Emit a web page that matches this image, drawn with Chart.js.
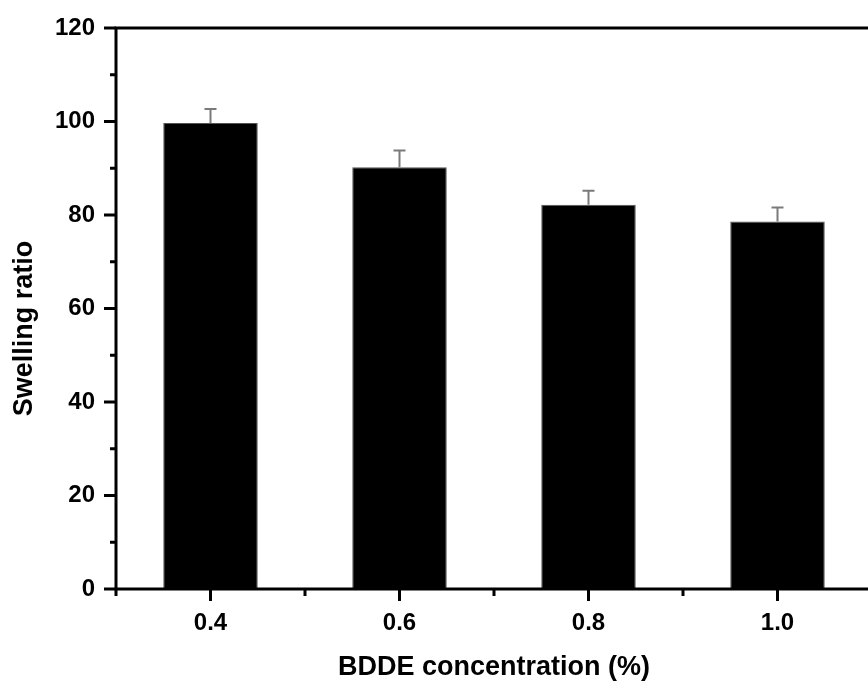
<!DOCTYPE html>
<html>
<head>
<meta charset="utf-8">
<script src="https://cdn.jsdelivr.net/npm/chart.js@4/dist/chart.umd.min.js"></script>
<style>
  html, body { margin: 0; padding: 0; background: #fff; overflow: hidden; }
  #wrap { position: relative; width: 900px; height: 686px; }
</style>
</head>
<body>
<div id="wrap"><canvas id="c" width="900" height="686"></canvas></div>
<script>
// ---- data ----
const concentrations = [0.4, 0.6, 0.8, 1.0];
const swellingRatio = [99.7, 90.2, 82.2, 78.6];
const swellingError = [3.0, 3.6, 3.0, 3.0];
const xLabelValues = [0.4, 0.6, 0.8, 1.0];
const xMinorValues = [0.3, 0.5, 0.7, 0.9, 1.1];
const yMajorValues = [0, 20, 40, 60, 80, 100, 120];
const yMinorValues = [10, 30, 50, 70, 90, 110];
const xTitle = 'BDDE concentration (%)';
const yTitle = 'Swelling ratio';

const FONT = '"Liberation Sans", Arial, Helvetica, sans-serif';

const axesPlugin = {
  id: 'axesFrame',
  afterDraw(chart) {
    const ctx = chart.ctx;
    const a = chart.chartArea;
    const xs = chart.scales.x, ys = chart.scales.y;
    ctx.save();
    ctx.strokeStyle = '#000';
    ctx.lineWidth = 3;
    ctx.lineCap = 'butt';
    ctx.beginPath();
    ctx.moveTo(a.left, a.top); ctx.lineTo(a.left, a.bottom + 1.5);
    ctx.moveTo(a.left - 1.5, a.bottom); ctx.lineTo(a.right, a.bottom);
    ctx.moveTo(a.left - 1.5, a.top); ctx.lineTo(a.right + 1.5, a.top);
    ctx.moveTo(a.right, a.top); ctx.lineTo(a.right, a.bottom);
    ctx.stroke();
    ctx.beginPath();
    yMajorValues.forEach(v => { const y = ys.getPixelForValue(v); ctx.moveTo(a.left - 12, y); ctx.lineTo(a.left, y); });
    yMinorValues.forEach(v => { const y = ys.getPixelForValue(v); ctx.moveTo(a.left - 6, y); ctx.lineTo(a.left, y); });
    xLabelValues.forEach(v => { const x = xs.getPixelForValue(v); ctx.moveTo(x, a.bottom); ctx.lineTo(x, a.bottom + 12); });
    xMinorValues.forEach(v => { const x = xs.getPixelForValue(v); ctx.moveTo(x, a.bottom); ctx.lineTo(x, a.bottom + 7); });
    ctx.stroke();
    // y axis title (placed as in the reference, slightly below the axis centre)
    ctx.fillStyle = '#000';
    ctx.font = 'bold 27px ' + FONT;
    ctx.textAlign = 'center';
    ctx.textBaseline = 'middle';
    ctx.translate(25, a.top + (a.bottom - a.top) / 2 + 20);
    ctx.rotate(-Math.PI / 2);
    ctx.fillText(yTitle, 0, 0);
    ctx.restore();
  }
};

const errorBarPlugin = {
  id: 'errorBars',
  afterDatasetsDraw(chart) {
    const ctx = chart.ctx;
    const xs = chart.scales.x, ys = chart.scales.y;
    ctx.save();
    ctx.strokeStyle = '#7a7a7a';
    ctx.lineWidth = 2;
    concentrations.forEach((c, i) => {
      const x = xs.getPixelForValue(c);
      const y0 = ys.getPixelForValue(swellingRatio[i]);
      const y1 = ys.getPixelForValue(swellingRatio[i] + swellingError[i]);
      ctx.beginPath();
      ctx.moveTo(x, y0); ctx.lineTo(x, y1);
      ctx.moveTo(x - 6, y1); ctx.lineTo(x + 6, y1);
      ctx.stroke();
    });
    ctx.restore();
  }
};

new Chart(document.getElementById('c'), {
  type: 'bar',
  data: {
    datasets: [{
      data: concentrations.map((c, i) => ({ x: c, y: swellingRatio[i] })),
      backgroundColor: '#000',
      borderColor: '#555',
      borderWidth: 1,
      barPercentage: 0.5,
      categoryPercentage: 1.0
    }]
  },
  options: {
    responsive: false,
    animation: false,
    devicePixelRatio: 1,
    layout: { padding: { top: 28, right: 28, left: 0, bottom: 0 } },
    plugins: { legend: { display: false }, tooltip: { enabled: false } },
    scales: {
      x: {
        type: 'linear',
        min: 0.3, max: 1.1,
        offset: false,
        grid: { display: false, drawTicks: false },
        border: { display: false },
        afterFit(s) { s.height = 97; s.paddingLeft = 0; s.paddingRight = 0; },
        afterBuildTicks(s) { s.ticks = xLabelValues.map(v => ({ value: v })); },
        ticks: {
          padding: 20,
          color: '#000',
          font: { family: FONT, size: 24, weight: 'bold' },
          callback: v => Number(v).toFixed(1)
        },
        title: {
          display: true, text: xTitle, color: '#000',
          font: { family: FONT, size: 27, weight: 'bold' },
          padding: { top: 0, bottom: 2 }
        }
      },
      y: {
        min: 0, max: 120,
        grid: { display: false, drawTicks: false },
        border: { display: false },
        afterFit(s) { s.width = 116; s.paddingTop = 0; s.paddingBottom = 0; },
        afterBuildTicks(s) { s.ticks = yMajorValues.map(v => ({ value: v })); },
        ticks: {
          padding: 21,
          color: '#000',
          font: { family: FONT, size: 24, weight: 'bold' }
        },
        title: { display: false }
      }
    }
  },
  plugins: [axesPlugin, errorBarPlugin]
});
</script>
</body>
</html>
